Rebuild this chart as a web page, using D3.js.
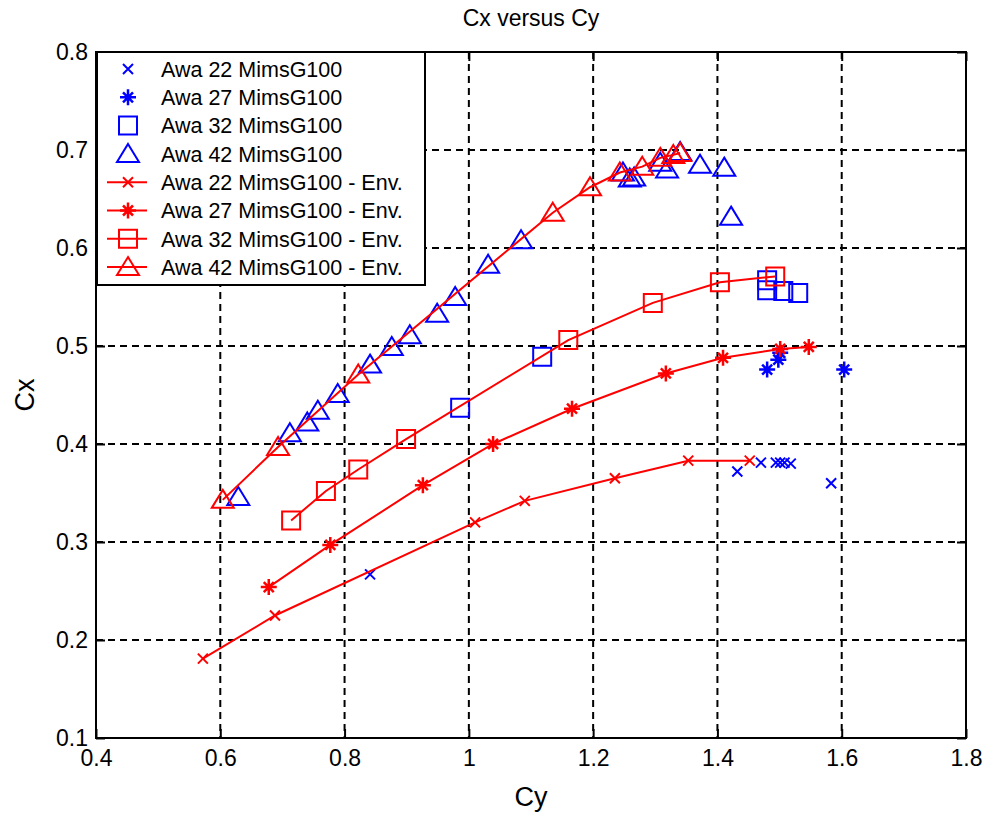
<!DOCTYPE html>
<html>
<head>
<meta charset="utf-8">
<script src="https://cdn.jsdelivr.net/npm/d3@7"></script>
<style>
  html, body { margin: 0; padding: 0; background: #fff; }
  svg { display: block; }
  text { font-family: "Liberation Sans", Arial, sans-serif; fill: #000; }
</style>
</head>
<body>
<div id="chart"></div>
<script>
// Measured points, [Cy, Cx]
const awa22 = [[0.841,0.267],[1.432,0.372],[1.470,0.381],[1.494,0.381],[1.501,0.381],[1.508,0.381],[1.518,0.380],[1.583,0.360]];
const awa27 = [[1.480,0.476],[1.498,0.486],[1.501,0.493],[1.604,0.476]];
const awa32 = [[0.986,0.437],[1.118,0.489],[1.480,0.567],[1.480,0.557],[1.506,0.556],[1.530,0.554]];
const awa42 = [[0.629,0.346],[0.712,0.411],[0.740,0.422],[0.757,0.434],[0.789,0.451],[0.841,0.481],[0.876,0.499],
               [0.905,0.511],[0.949,0.533],[0.978,0.550],[1.031,0.583],[1.084,0.608],[1.248,0.677],[1.259,0.671],
               [1.266,0.672],[1.308,0.687],[1.319,0.680],[1.340,0.698],[1.372,0.685],[1.411,0.682],[1.422,0.632]];

const env22 = [[0.572,0.181],[0.688,0.225],[1.010,0.320],[1.090,0.342],[1.235,0.365],[1.353,0.383],[1.452,0.383]];
const env27 = [[0.678,0.254],[0.777,0.297],[0.926,0.358],[1.039,0.400],[1.166,0.436],[1.317,0.472],[1.409,0.488],[1.501,0.497],[1.547,0.499]];
const env32 = [[0.714,0.322],[0.770,0.352],[0.822,0.374],[0.899,0.405],[1.160,0.506],[1.296,0.544],[1.404,0.565],[1.493,0.571]];
const env42 = [[0.604,0.343],[0.693,0.397],[0.822,0.471],[1.135,0.636],[1.195,0.662],[1.243,0.677],[1.279,0.683],[1.308,0.692],[1.329,0.695],[1.340,0.697]];

const xTicks = [0.4,0.6,0.8,1.0,1.2,1.4,1.6,1.8];
const yTicks = [0.1,0.2,0.3,0.4,0.5,0.6,0.7,0.8];

const seriesNames = ["Awa 22 MimsG100","Awa 27 MimsG100","Awa 32 MimsG100","Awa 42 MimsG100",
  "Awa 22 MimsG100 - Env.","Awa 27 MimsG100 - Env.","Awa 32 MimsG100 - Env.","Awa 42 MimsG100 - Env."];

const series = [
  {name: seriesNames[0], data: awa22, marker: "x",  color: "#0000ff", line: false},
  {name: seriesNames[1], data: awa27, marker: "*",  color: "#0000ff", line: false},
  {name: seriesNames[2], data: awa32, marker: "s",  color: "#0000ff", line: false},
  {name: seriesNames[3], data: awa42, marker: "^",  color: "#0000ff", line: false},
  {name: seriesNames[4], data: env22, marker: "x",  color: "#ff0000", line: true},
  {name: seriesNames[5], data: env27, marker: "*",  color: "#ff0000", line: true},
  {name: seriesNames[6], data: env32, marker: "s",  color: "#ff0000", line: true},
  {name: seriesNames[7], data: env42, marker: "^",  color: "#ff0000", line: true}
];

const W = 985, H = 816;
const m = {left: 96, top: 52, right: 985 - 966, bottom: 816 - 738};
const iw = W - m.left - m.right, ih = H - m.top - m.bottom;

const svg = d3.select("#chart").append("svg").attr("width", W).attr("height", H);
const g = svg.append("g").attr("transform", `translate(${m.left},${m.top})`);

const x = d3.scaleLinear().domain([0.4, 1.8]).range([0, iw]);
const y = d3.scaleLinear().domain([0.1, 0.8]).range([ih, 0]);

// dashed grid
g.append("g").selectAll("line").data(xTicks.slice(1, -1)).join("line")
  .attr("x1", d => x(d)).attr("x2", d => x(d)).attr("y1", 0).attr("y2", ih)
  .attr("stroke", "#000").attr("stroke-width", 2).attr("stroke-dasharray", "7,5");
g.append("g").selectAll("line").data(yTicks.slice(1, -1)).join("line")
  .attr("y1", d => y(d)).attr("y2", d => y(d)).attr("x1", 0).attr("x2", iw)
  .attr("stroke", "#000").attr("stroke-width", 2).attr("stroke-dasharray", "7,5");

// axes with inward ticks
const tickFmt = d => d3.format("")(+d.toFixed(1));
const xAxis = g.append("g").attr("transform", `translate(0,${ih})`)
  .call(d3.axisBottom(x).tickValues(xTicks).tickSizeInner(-9).tickSizeOuter(0).tickPadding(12).tickFormat(tickFmt));
const xAxisTop = g.append("g")
  .call(d3.axisTop(x).tickValues(xTicks).tickSizeInner(-9).tickSizeOuter(0).tickFormat(""));
const yAxis = g.append("g")
  .call(d3.axisLeft(y).tickValues(yTicks).tickSizeInner(-9).tickSizeOuter(0).tickPadding(8).tickFormat(tickFmt));
const yAxisRight = g.append("g").attr("transform", `translate(${iw},0)`)
  .call(d3.axisRight(y).tickValues(yTicks).tickSizeInner(-9).tickSizeOuter(0).tickFormat(""));
[xAxis, xAxisTop, yAxis, yAxisRight].forEach(a => {
  a.select(".domain").remove();
  a.selectAll("line").attr("stroke", "#000").attr("stroke-width", 2);
  a.selectAll("text").attr("font-size", 23).attr("font-family", "Liberation Sans, Arial, sans-serif").attr("fill", "#000");
});
xAxis.selectAll("text").attr("dy", "0.71em");

// frame
g.append("rect").attr("x", 0).attr("y", 0).attr("width", iw).attr("height", ih)
  .attr("fill", "none").attr("stroke", "#000").attr("stroke-width", 2);

// marker shapes
function markerPath(type) {
  switch (type) {
    case "x": return "M-5,-5L5,5M-5,5L5,-5";
    case "*": return "M-8,0L8,0M0,-8L0,8M-5,-5L5,5M-5,5L5,-5";
    case "s": return "M-9,-9H9V9H-9Z";
    case "^": return "M0,-10L11,8H-11Z";
  }
}

const line = d3.line().x(d => x(d[0])).y(d => y(d[1]));

series.forEach(s => {
  const sg = g.append("g");
  if (s.line) {
    sg.append("path").attr("d", line(s.data)).attr("fill", "none")
      .attr("stroke", s.color).attr("stroke-width", 2);
  }
  sg.selectAll("path.mk").data(s.data).join("path").attr("class", "mk")
    .attr("transform", d => `translate(${x(d[0])},${y(d[1])})`)
    .attr("d", markerPath(s.marker)).attr("fill", "none")
    .attr("stroke", s.color).attr("stroke-width", s.marker === "*" ? 2.5 : 2);
});

// legend
const lg = svg.append("g").attr("transform", "translate(97,52)");
lg.append("rect").attr("x", 0).attr("y", 0).attr("width", 328).attr("height", 233)
  .attr("fill", "#fff").attr("stroke", "#000").attr("stroke-width", 2);
series.forEach((s, i) => {
  const cy = 17 + i * 28.3;
  if (s.line) {
    lg.append("line").attr("x1", 10).attr("x2", 50).attr("y1", cy).attr("y2", cy)
      .attr("stroke", s.color).attr("stroke-width", 2);
  }
  lg.append("path").attr("transform", `translate(31,${cy})`).attr("d", markerPath(s.marker))
    .attr("fill", "none").attr("stroke", s.color).attr("stroke-width", s.marker === "*" ? 2.5 : 2);
  lg.append("text").attr("x", 64).attr("y", cy).attr("dy", "0.36em")
    .attr("font-size", 21.5).text(s.name);
});

// titles
svg.append("text").attr("x", (m.left + 966) / 2).attr("y", 26).attr("text-anchor", "middle")
  .attr("font-size", 23).text("Cx versus Cy");
svg.append("text").attr("x", (m.left + 966) / 2).attr("y", 806).attr("text-anchor", "middle")
  .attr("font-size", 27).text("Cy");
svg.append("text").attr("transform", `translate(34,${(m.top + 738) / 2}) rotate(-90)`)
  .attr("text-anchor", "middle").attr("font-size", 27).text("Cx");
</script>
</body>
</html>
